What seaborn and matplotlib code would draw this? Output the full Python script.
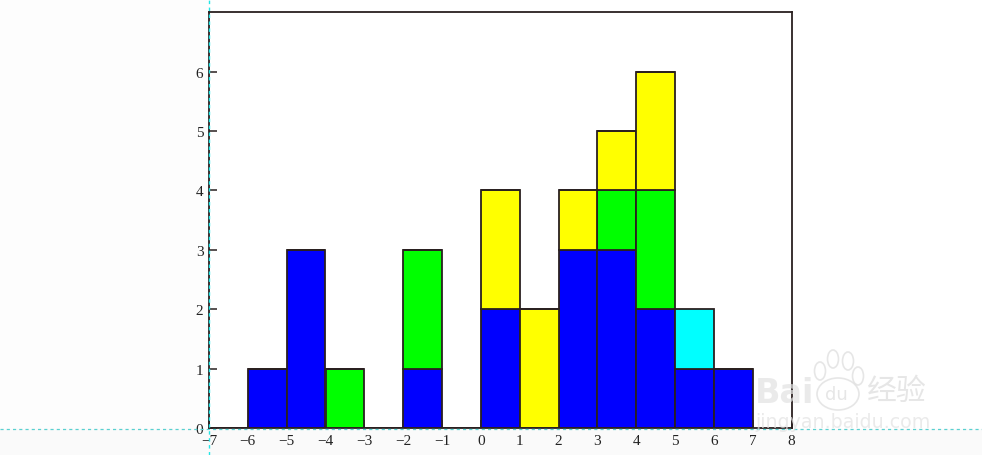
import matplotlib
matplotlib.use("Agg")
import matplotlib.pyplot as plt
from matplotlib.lines import Line2D
from matplotlib.patches import Rectangle, Ellipse
import pandas as pd
import seaborn as sns

bin_edges = list(range(-7, 8))
bin_left = [-6, -5, -4, -2, 0, 1, 2, 3, 4, 5, 6]
blue = [1, 3, 0, 1, 2, 0, 3, 3, 2, 1, 1]
green = [0, 0, 1, 2, 0, 0, 0, 1, 2, 0, 0]
yellow = [0, 0, 0, 0, 2, 2, 1, 1, 2, 0, 0]
cyan = [0, 0, 0, 0, 0, 0, 0, 0, 0, 1, 0]
x_ticks = list(range(-7, 9))
y_ticks = list(range(0, 7))

series = {"a": blue, "b": green, "c": yellow, "d": cyan}
palette = {"a": "#0000ff", "b": "#00ff00", "c": "#ffff00", "d": "#00ffff"}
df = pd.concat(
    [pd.DataFrame({"x": [b + 0.5 for b in bin_left], "g": k, "n": v}) for k, v in series.items()],
    ignore_index=True,
)

sns.set_style("white")
plt.rcParams["font.family"] = ["Liberation Serif", "DejaVu Sans"]

W, H = 982, 456
fig = plt.figure(figsize=(W / 100, H / 100), dpi=100, facecolor="#fdfdfd")
fig.add_artist(Rectangle((0, 0), 1, (H - 429.5) / H, transform=fig.transFigure,
                         facecolor="#fafafa", edgecolor="none", zorder=-5))
fig.add_artist(Rectangle((209 / W, (H - 429.5) / H), 1 - 209 / W, 429.5 / H, transform=fig.transFigure,
                         facecolor="#ffffff", edgecolor="none", zorder=-4))
ax = fig.add_axes([209 / W, (H - 429) / H, (791.5 - 209) / W, (429 - 13.3) / H])
ax.set_facecolor("#ffffff")

sns.histplot(data=df, x="x", hue="g", weights="n", bins=bin_edges, multiple="stack",
             hue_order=["d", "c", "b", "a"], palette=palette, alpha=1,
             edgecolor="#2a2020", linewidth=1.3, legend=False, ax=ax)

ax.set_xlim(-7, 8)
ax.set_ylim(0, 7)
ax.set_xticks(x_ticks)
ax.set_yticks(y_ticks)
ax.set_xticklabels([str(t).replace("-", "\u2212") for t in x_ticks])
ax.set_xlabel("")
ax.set_ylabel("")
ax.tick_params(axis="both", direction="in", length=6, width=1.1, color="#2a2020",
               labelsize=11, labelcolor="#222222", pad=4, left=True, bottom=True)
for s in ax.spines.values():
    s.set_linewidth(1.3)
    s.set_color("#2a2020")
    s.set_visible(True)

# guide lines of the screenshot
fig.add_artist(Line2D([208.5 / W] * 2, [0, 1], transform=fig.transFigure, color="#22e6e6",
                      lw=1, ls=(0, (2.5, 2.5)), zorder=10))
fig.add_artist(Line2D([0, 1], [(H - 429.5) / H] * 2, transform=fig.transFigure, color="#5ad0d0",
                      lw=0.9, ls=(0, (2.5, 2.5)), zorder=10))

# watermark
wm = "#e2e2e2"
fig.text(755 / W, (H - 393.5) / H, "Bai", fontsize=24, family="DejaVu Sans", color=wm, va="center",
         weight="bold", zorder=11, alpha=.7)
fig.text(825 / W, (H - 395) / H, "du", fontsize=13, family="DejaVu Sans", color=wm, va="center", zorder=11, alpha=.85)
fig.add_artist(Ellipse((838 / W, (H - 395) / H), 42 / W, 32 / H, transform=fig.transFigure,
                       facecolor="none", edgecolor=wm, lw=1.2, alpha=.85, zorder=11))
for cx, cy in [(820, 372), (833, 360), (848, 362), (858, 377)]:
    fig.add_artist(Ellipse((cx / W, (H - cy) / H), 11 / W, 18 / H, transform=fig.transFigure,
                           facecolor="none", edgecolor=wm, lw=1.2, alpha=.85, zorder=11))
fig.text(867 / W, (H - 391) / H, "经验", fontsize=21.5, family=["Noto Sans CJK SC"], color=wm, va="center",
         alpha=.85, zorder=11)
fig.text(755 / W, (H - 423) / H, "jingyan.baidu.com", fontsize=13.7, family="DejaVu Sans", color=wm,
         va="center", zorder=11, alpha=.7)

fig.savefig("out.png", dpi=100, facecolor=fig.get_facecolor())
